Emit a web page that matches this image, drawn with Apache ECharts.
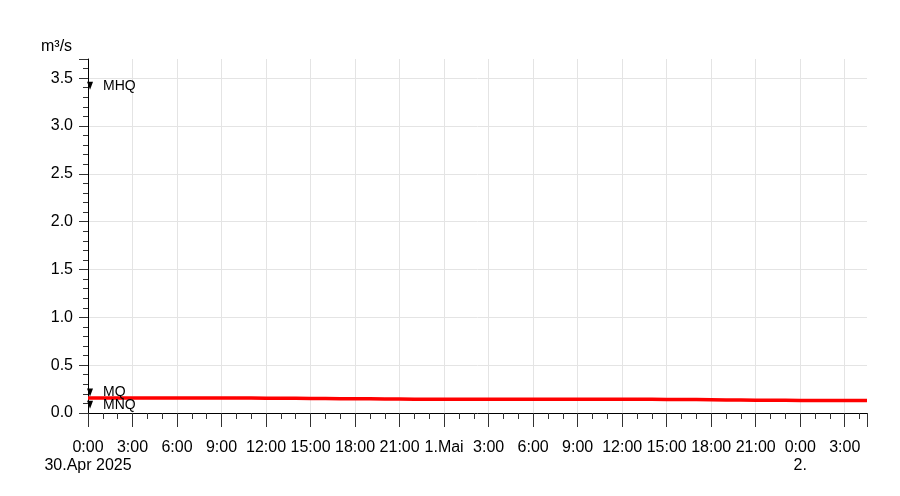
<!DOCTYPE html>
<html>
<head>
<meta charset="utf-8">
<script src="https://cdn.jsdelivr.net/npm/echarts@6/dist/echarts.min.js"></script>
<style>html,body{margin:0;padding:0;background:#fff}#c{width:900px;height:496px}</style>
</head>
<body>
<div id="c"></div>
<script>
// hours since 30.Apr 2025 0:00
const hours = [0,1,2,3,4,5,6,7,8,9,10,11,12,13,14,15,16,17,18,19,20,21,22,23,24,25,26,27,28,29,30,31,32,33,34,35,36,37,38,39,40,41,42,43,44,45,46,47,48,49,50,51,52,52.5];
const flow = [0.156,0.156,0.156,0.157,0.157,0.157,0.158,0.158,0.158,0.158,0.157,0.156,0.155,0.154,0.153,0.152,0.151,0.150,0.149,0.148,0.147,0.146,0.145,0.145,0.144,0.144,0.144,0.144,0.144,0.144,0.145,0.145,0.145,0.145,0.145,0.145,0.145,0.144,0.143,0.142,0.141,0.140,0.139,0.137,0.136,0.134,0.133,0.132,0.131,0.130,0.130,0.131,0.131,0.130];
const markNames = ['MHQ','MQ','MNQ'];
const markValues = [3.42,0.215,0.085];
const dayLabels = ['30.Apr 2025','1.Mai','2.'];
const unitLabel = 'm³/s';

const chart = echarts.init(document.getElementById('c'));
const font = 'Liberation Sans, Arial, sans-serif';
chart.setOption({
  animation:false,
  grid:{left:88,right:33,top:59,bottom:83,containLabel:false},
  graphic:[{type:'text',left:41,top:39,style:{text:unitLabel,font:'16px '+font,fill:'#000'}}],
  xAxis:[{
    type:'value',min:0,max:52.5,interval:3,
    axisLine:{show:true,onZero:false,lineStyle:{color:'#000',width:1}},
    axisTick:{show:true,length:14,lineStyle:{color:'#333'}},
    minorTick:{show:true,splitNumber:3,length:6,lineStyle:{color:'#333'}},
    splitLine:{show:true,showMaxLine:false,showMinLine:false,lineStyle:{color:'#e4e4e4'}},
    axisLabel:{
      margin:27,fontFamily:font,fontSize:16,color:'#000',
      showMaxLabel:false,showMinLabel:true,hideOverlap:false,interval:0,
      formatter:function(v){
        if (Math.abs(v%3)>1e-6) return '';
        const d = Math.floor(v/24+1e-9), hh = Math.round(v-d*24);
        if (hh===0 && d===1) return dayLabels[1];
        return hh+':00';
      }
    }
  },{
    type:'value',min:0,max:52.5,interval:3,position:'bottom',
    axisLine:{show:false,onZero:false},axisTick:{show:false},minorTick:{show:false},splitLine:{show:false},
    axisLabel:{
      margin:45,fontFamily:font,fontSize:16,color:'#000',
      showMaxLabel:false,showMinLabel:true,hideOverlap:false,interval:0,
      formatter:function(v){
        if (Math.abs(v%24)>1e-6) return '';
        const d = Math.round(v/24);
        return d===1 ? '' : dayLabels[d];
      }
    }
  }],
  yAxis:{
    type:'value',min:0,max:3.7,interval:0.5,
    axisLine:{show:true,lineStyle:{color:'#000',width:1}},
    axisTick:{show:true,length:9,lineStyle:{color:'#333'}},
    minorTick:{show:true,splitNumber:5,length:5,lineStyle:{color:'#333'}},
    splitLine:{show:true,showMaxLine:false,showMinLine:false,lineStyle:{color:'#e4e4e4'}},
    axisLabel:{margin:15,fontFamily:font,fontSize:16,color:'#000',showMaxLabel:false,showMinLabel:true,
      formatter:function(v){ return (Math.abs((v*2)%1)>1e-6)?'':v.toFixed(1); }}
  },
  series:[
    {type:'line',xAxisIndex:0,data:hours.map((h,i)=>[h,flow[i]]),showSymbol:false,
     lineStyle:{color:'#ff0000',width:3.5},z:3},
    {type:'scatter',xAxisIndex:0,data:markValues.map((v,i)=>({value:[0,v],name:markNames[i]})),
     symbol:'triangle',symbolRotate:180,symbolSize:[6,8],symbolOffset:[2,0],
     itemStyle:{color:'#000',opacity:1},
     emphasis:{disabled:true},
     label:{show:true,position:'right',distance:10,formatter:'{b}',
       fontFamily:font,fontSize:14,color:'#000',opacity:1},z:4}
  ]
});
</script>
</body>
</html>
